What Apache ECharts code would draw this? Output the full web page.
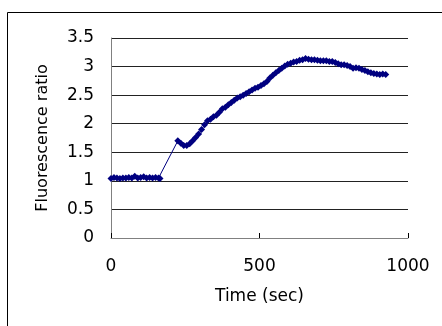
<!DOCTYPE html>
<html>
<head>
<meta charset="utf-8">
<script src="https://cdn.jsdelivr.net/npm/echarts@6/dist/echarts.min.js"></script>
<style>
  html, body { margin: 0; padding: 0; background: #fff; }
  #chart { width: 442px; height: 326px; }
</style>
</head>
<body>
<div id="chart"></div>
<script>
// time (sec) and fluorescence ratio
const times = [
  0, 10, 20, 30, 40, 50, 60, 70, 80, 90, 100, 110, 120, 130, 140, 150, 160, 165,
  225, 235, 245, 255, 265, 275, 285, 295, 305, 315, 325, 335, 345, 355, 365, 375,
  385, 395, 405, 415, 425, 435, 445, 455, 465, 475, 485, 495, 505, 515, 525, 535,
  545, 555, 565, 575, 585, 595, 605, 615, 625, 635, 645, 655, 665, 675, 685, 695,
  705, 715, 725, 735, 745, 755, 765, 775, 785, 795, 805, 815, 825, 835, 845, 855,
  865, 875, 885, 895, 905, 915, 925
];
const ratios = [
  1.04, 1.06, 1.05, 1.04, 1.05, 1.05, 1.06, 1.05, 1.08, 1.05, 1.06, 1.07, 1.05, 1.06, 1.05, 1.06, 1.05, 1.04,
  1.70, 1.66, 1.62, 1.62, 1.65, 1.70, 1.76, 1.82, 1.90, 1.98, 2.05, 2.08, 2.12, 2.15, 2.20, 2.26,
  2.29, 2.33, 2.37, 2.41, 2.45, 2.47, 2.50, 2.53, 2.56, 2.59, 2.62, 2.64, 2.67, 2.70, 2.74, 2.80,
  2.85, 2.89, 2.93, 2.97, 3.01, 3.04, 3.06, 3.08, 3.09, 3.11, 3.12, 3.14, 3.13, 3.12, 3.12, 3.11,
  3.10, 3.10, 3.10, 3.09, 3.09, 3.07, 3.05, 3.03, 3.03, 3.02, 3.00, 2.97, 2.98, 2.97, 2.95, 2.93,
  2.91, 2.89, 2.88, 2.87, 2.86, 2.87, 2.86
];

const chart = echarts.init(document.getElementById('chart'));
const font = 'DejaVu Sans';

chart.setOption({
  animation: false,
  backgroundColor: '#fff',
  graphic: [{
    type: 'rect',
    shape: { x: 7.5, y: 12.5, width: 500, height: 400 },
    style: { fill: 'none', stroke: '#000', lineWidth: 1 },
    silent: true
  }],
  grid: { left: 111, right: 34, top: 38, bottom: 88 },
  xAxis: {
    type: 'value',
    min: 0,
    max: 1000,
    interval: 500,
    name: 'Time (sec)',
    nameLocation: 'middle',
    nameGap: 50,
    nameTextStyle: { color: '#000', fontSize: 17, fontFamily: font },
    axisLine: { lineStyle: { color: '#808080', width: 1 } },
    axisTick: { inside: true, length: 5, lineStyle: { color: '#000' } },
    axisLabel: { color: '#000', fontSize: 17, fontFamily: font, margin: 20, formatter: v => String(v) },
    splitLine: { show: false }
  },
  yAxis: {
    type: 'value',
    min: 0,
    max: 3.5,
    interval: 0.5,
    name: 'Fluorescence ratio',
    nameLocation: 'middle',
    nameGap: 60,
    nameTextStyle: { color: '#000', fontSize: 16, fontFamily: font },
    axisLine: { show: true, lineStyle: { color: '#808080', width: 1 } },
    axisTick: { show: false },
    axisLabel: { color: '#000', fontSize: 17, fontFamily: font, margin: 17 },
    splitLine: { lineStyle: { color: '#222', width: 1 } }
  },
  series: [{
    type: 'line',
    data: times.map((t, i) => [t, ratios[i]]),
    symbol: 'diamond',
    symbolSize: 7,
    lineStyle: { color: '#000080', width: 1 },
    itemStyle: { color: '#000080' }
  }]
});
</script>
</body>
</html>
